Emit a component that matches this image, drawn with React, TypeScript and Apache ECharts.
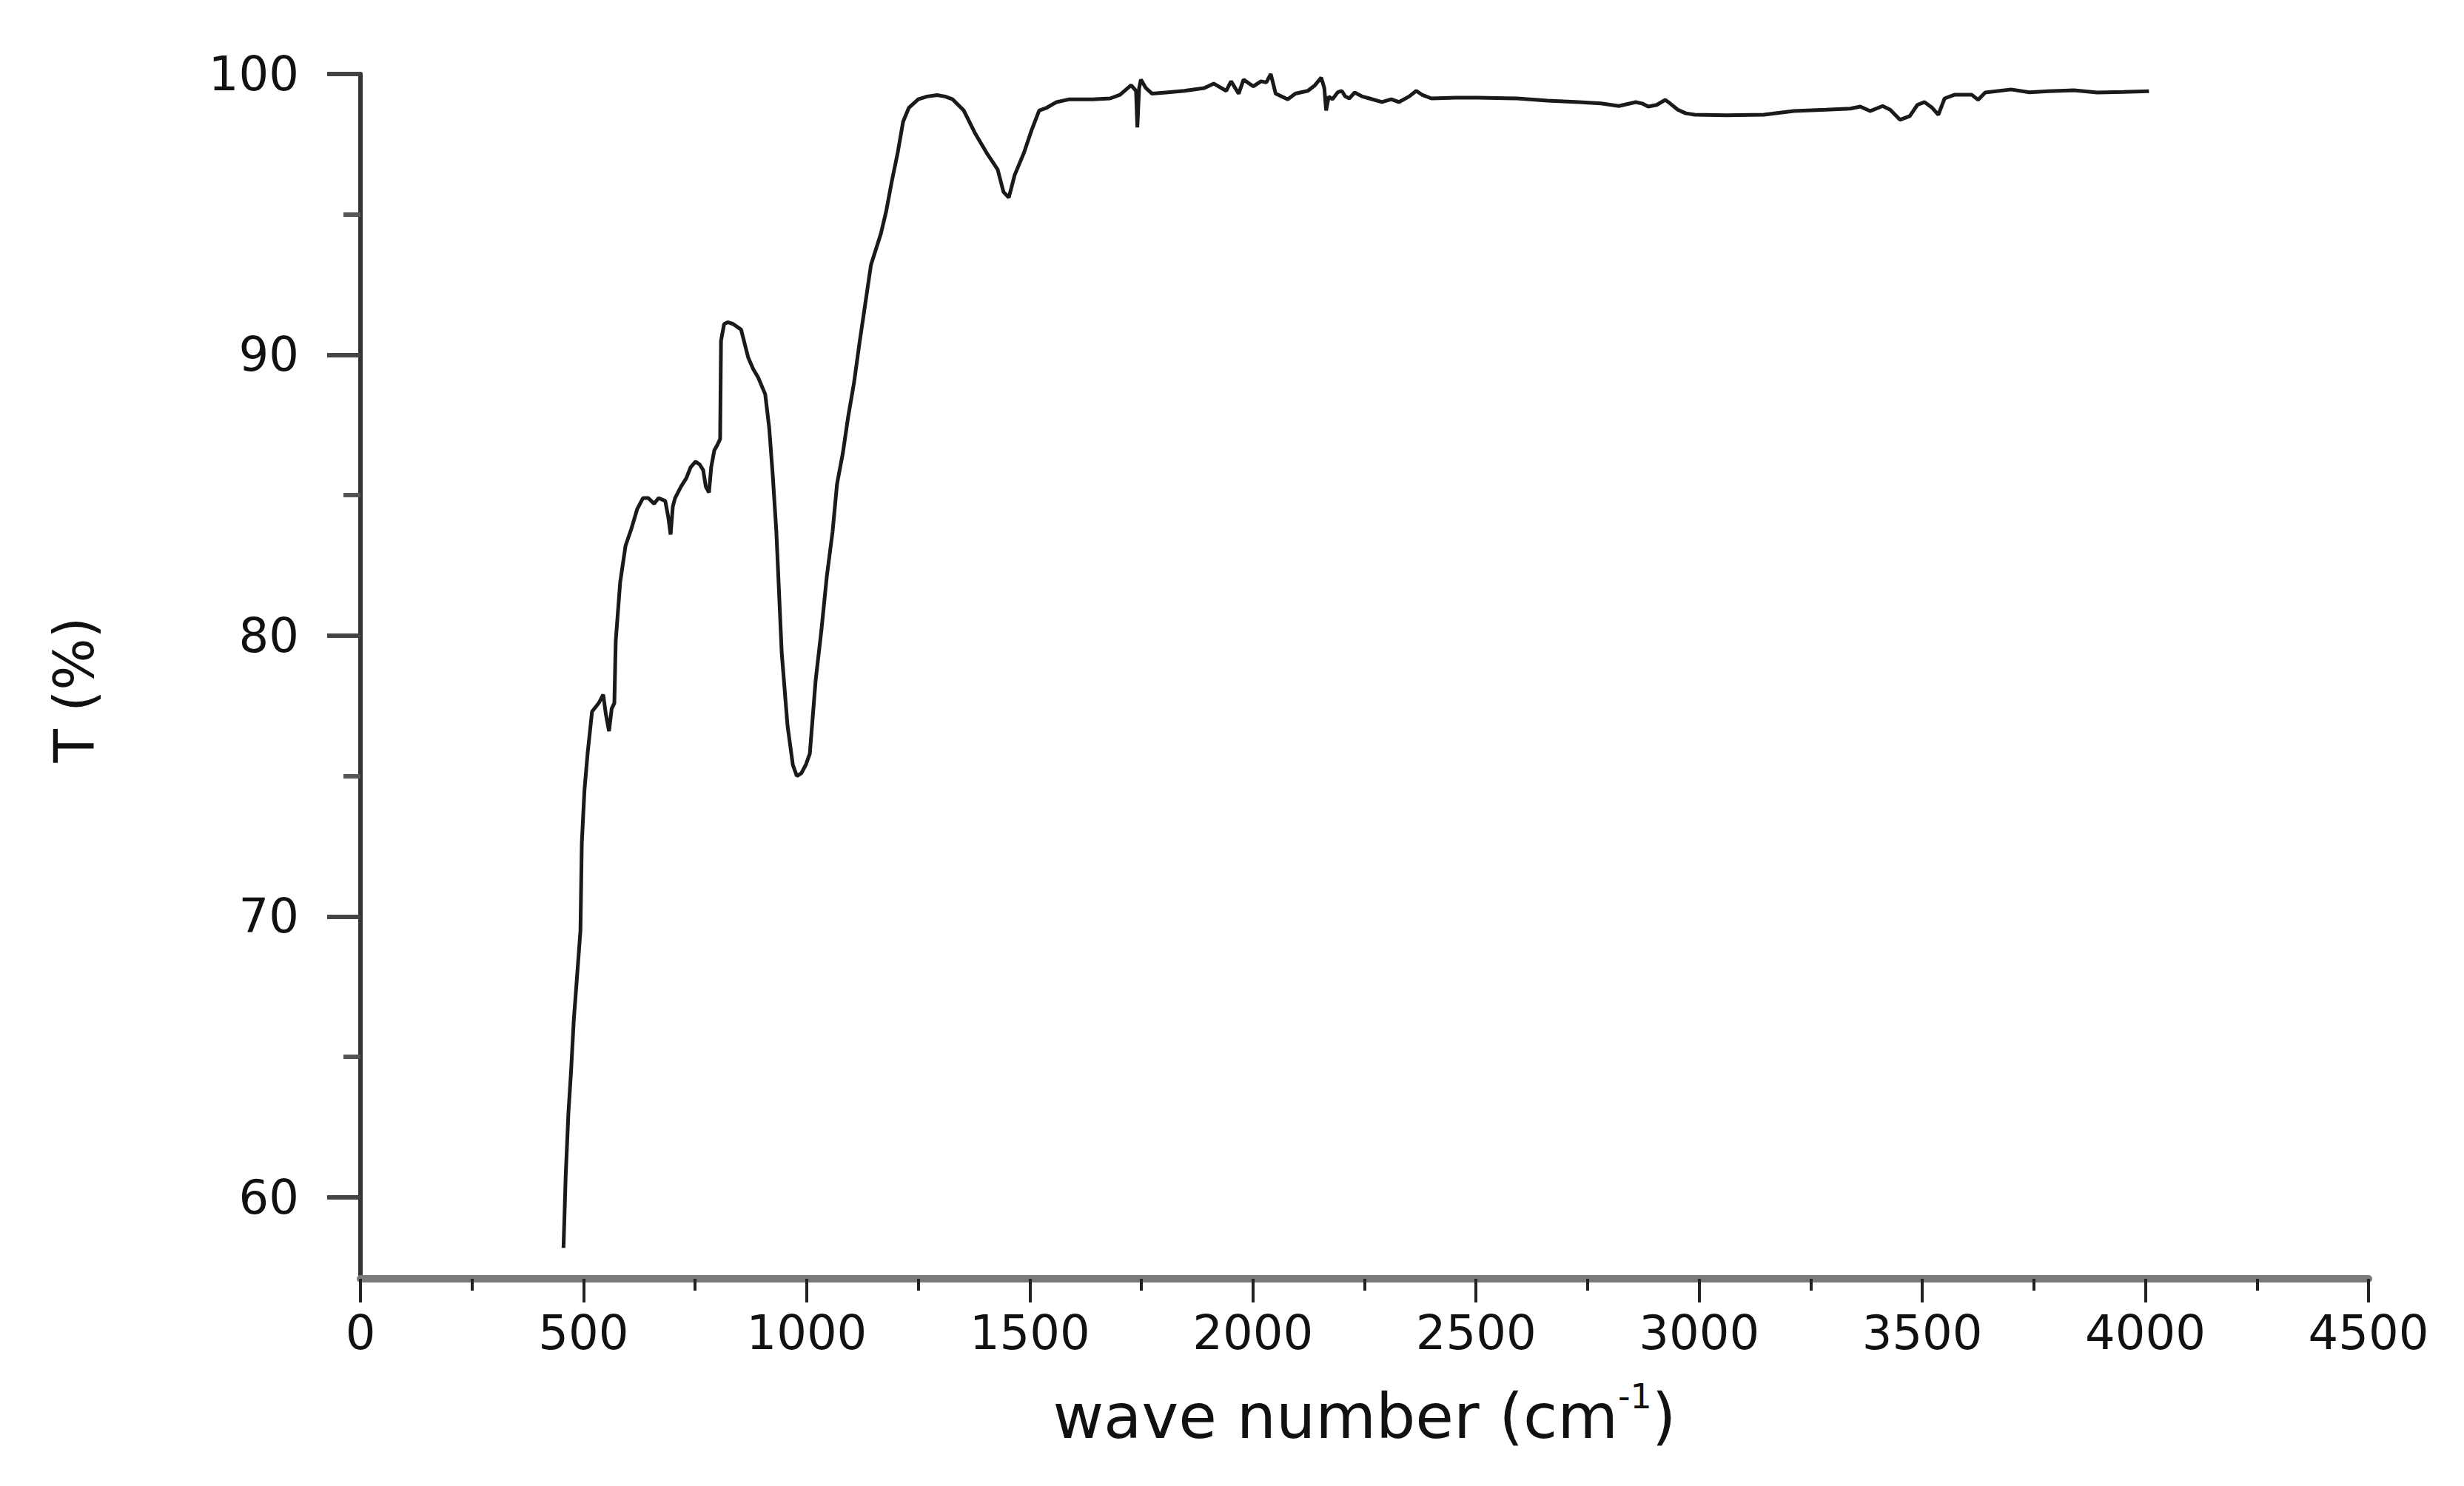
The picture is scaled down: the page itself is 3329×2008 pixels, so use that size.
import React, { useEffect, useRef } from "react";
import * as echarts from "echarts";

// FTIR spectrum
const wavenumber = [
  455, 460, 466, 472, 478, 486, 493, 496, 502, 509, 519, 534, 544, 550, 557, 563, 569, 572, 582, 594,
  607, 620, 633, 645, 658, 668, 683, 690, 695, 700, 705, 718, 730, 740, 751, 760, 768, 774, 781, 786,
  793, 800, 806, 808, 815, 823, 835, 853, 869, 880, 891, 907, 916, 924, 932, 944, 957, 969, 978, 988,
  998, 1007, 1020, 1033, 1045, 1058, 1068, 1081, 1093, 1106, 1119, 1132, 1144, 1166, 1178, 1191, 1204, 1216, 1229, 1250,
  1270, 1292, 1310, 1327, 1352, 1377, 1403, 1428, 1441, 1453, 1466, 1487, 1504, 1521, 1538, 1560, 1589, 1640, 1680, 1702,
  1727, 1738, 1741, 1745, 1749, 1760, 1774, 1810, 1846, 1891, 1912, 1940, 1951, 1968, 1979, 2001, 2018, 2030, 2040, 2051,
  2078, 2095, 2123, 2139, 2153, 2160, 2164, 2170, 2178, 2190, 2199, 2207, 2216, 2228, 2245, 2261, 2289, 2310, 2327, 2350,
  2366, 2380, 2400, 2455, 2505, 2592, 2660, 2731, 2780, 2820, 2858, 2872, 2886, 2905, 2924, 2935, 2952, 2970, 2990, 3062,
  3145, 3212, 3284, 3339, 3361, 3383, 3411, 3428, 3450, 3472, 3489, 3505, 3522, 3536, 3550, 3572, 3611, 3625, 3641, 3699,
  3740, 3782, 3840, 3892, 3950, 4008
];
const transmittance = [
  58.2, 60.8, 63.0, 64.5, 66.3, 68.0, 69.5, 72.6, 74.5, 75.8, 77.3, 77.6, 77.9, 77.2, 76.6, 77.4, 77.6, 79.8, 81.9, 83.2,
  83.8, 84.5, 84.9, 84.9, 84.7, 84.9, 84.8, 84.2, 83.6, 84.6, 84.9, 85.3, 85.6, 86.0, 86.2, 86.1, 85.9, 85.3, 85.1, 86.0,
  86.6, 86.8, 87.0, 90.5, 91.1, 91.16, 91.1, 90.9, 89.9, 89.5, 89.2, 88.6, 87.4, 85.7, 83.7, 79.4, 76.8, 75.4, 75.0, 75.1,
  75.4, 75.8, 78.4, 80.2, 82.1, 83.7, 85.4, 86.5, 87.8, 89.0, 90.5, 91.9, 93.2, 94.3, 95.1, 96.2, 97.2, 98.3, 98.8, 99.1,
  99.2, 99.25, 99.2, 99.1, 98.7, 97.9, 97.2, 96.6, 95.8, 95.6, 96.4, 97.2, 98.0, 98.7, 98.8, 99.0, 99.1, 99.1, 99.13, 99.26,
  99.6, 99.4, 98.1, 99.5, 99.8, 99.5, 99.3, 99.35, 99.4, 99.5, 99.66, 99.4, 99.74, 99.3, 99.8, 99.56, 99.74, 99.7, 100.0, 99.3,
  99.1, 99.3, 99.4, 99.6, 99.87, 99.5, 98.7, 99.2, 99.1, 99.35, 99.4, 99.2, 99.13, 99.34, 99.2, 99.13, 99.0, 99.1, 99.0, 99.2,
  99.4, 99.25, 99.13, 99.16, 99.16, 99.13, 99.05, 99.0, 98.95, 98.86, 99.0, 98.95, 98.84, 98.9, 99.08, 98.95, 98.73, 98.6, 98.55, 98.53,
  98.55, 98.68, 98.73, 98.77, 98.84, 98.68, 98.86, 98.73, 98.37, 98.5, 98.9, 99.0, 98.8, 98.55, 99.13, 99.26, 99.26, 99.08, 99.34, 99.45,
  99.35, 99.39, 99.42, 99.34, 99.36, 99.39
];

const yMajorTicks = [60, 70, 80, 90, 100];
const yMinorTicks = [65, 75, 85, 95];
const xAxisTitle = "{a|wave number (cm}{s|-1}{a|)}";
const yAxisTitle = "T (%)";

const FONT = "'DejaVu Sans', 'Liberation Sans', Arial, sans-serif";
const Y_MIN = 57.1;
const Y_MAX = 100;

export default function App() {
  const ref = useRef<HTMLDivElement>(null);

  useEffect(() => {
    if (!ref.current) return;
    const chart = echarts.init(ref.current, null, { renderer: "svg" });
    const data = wavenumber.map((w, i) => [w, transmittance[i]]);
    chart.setOption({
      animation: false,
      backgroundColor: "#ffffff",
      textStyle: { fontFamily: FONT },
      grid: { left: 487, right: 129, top: 100, bottom: 280, containLabel: false, outerBoundsMode: "none" },
      xAxis: {
        type: "value",
        min: 0,
        max: 4500,
        interval: 500,
        axisLine: { show: true, lineStyle: { color: "#7a7a7a", width: 10 } },
        axisTick: { show: true, length: 32, lineStyle: { color: "#222222", width: 4 } },
        minorTick: { show: true, splitNumber: 2, length: 16, lineStyle: { color: "#222222", width: 4 } },
        axisLabel: {
          fontSize: 64,
          color: "#111111",
          margin: 41,
          fontFamily: FONT,
          formatter: (v: number) => String(v)
        },
        splitLine: { show: false },
        minorSplitLine: { show: false },
        name: xAxisTitle,
        nameLocation: "middle",
        nameGap: 136,
        nameTextStyle: {
          rich: {
            a: { fontSize: 84, color: "#111111", fontFamily: FONT, lineHeight: 100 },
            s: { fontSize: 46, color: "#111111", fontFamily: FONT, verticalAlign: "top", lineHeight: 46 }
          }
        }
      },
      yAxis: [
        {
          type: "value",
          min: Y_MIN,
          max: Y_MAX,
          position: "left",
          axisLine: { show: true, lineStyle: { color: "#333333", width: 6 } },
          axisTick: { show: true, customValues: yMajorTicks, length: 45, lineStyle: { color: "#444444", width: 6 } },
          axisLabel: {
            customValues: yMajorTicks,
            fontSize: 64,
            color: "#111111",
            margin: 83,
            padding: [0, 0, 22, 0],
            fontFamily: FONT,
            formatter: (v: number) => String(v)
          },
          splitLine: { show: false },
          name: yAxisTitle,
          nameLocation: "middle",
          nameRotate: 90,
          nameGap: 350,
          nameTextStyle: { fontSize: 74, color: "#111111", fontFamily: FONT, padding: [0, 36, 0, 0] }
        },
        {
          type: "value",
          min: Y_MIN,
          max: Y_MAX,
          position: "left",
          axisLine: { show: false },
          axisTick: { show: true, customValues: yMinorTicks, length: 23, lineStyle: { color: "#555555", width: 6 } },
          axisLabel: { show: false },
          splitLine: { show: false }
        }
      ],
      series: [
        {
          type: "line",
          data,
          showSymbol: false,
          symbol: "none",
          smooth: false,
          lineStyle: { color: "#1a1a1a", width: 5 },
          clip: true
        }
      ]
    });
    return () => chart.dispose();
  }, []);

  return (
    <div
      ref={ref}
      style={{ position: "fixed", left: 0, top: 0, width: 3329, height: 2008, background: "#ffffff" }}
    />
  );
}
